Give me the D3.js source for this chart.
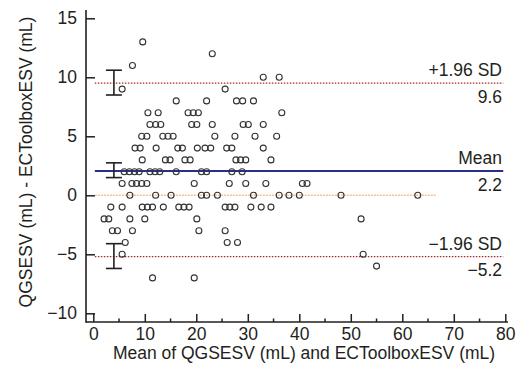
<!DOCTYPE html>
<html>
<head>
<meta charset="utf-8">
<script src="https://cdn.jsdelivr.net/npm/d3@7"></script>
<style>
  body { margin: 0; background: #fff; }
  text { font-family: "Liberation Sans", Arial, sans-serif; fill: #231f20; }
</style>
</head>
<body>
<svg id="chart" width="519" height="376"></svg>
<script>
// mean of the two methods (x) and their difference (y), one row per difference level
const meanVals = [
  9.6,
  23.1,
  7.6,
  33.0, 36.1,
  5.6, 25.6,
  16.1, 22.0, 27.8, 29.0, 31.1,
  10.6, 12.6, 18.4, 19.4, 20.4, 36.6,
  11.0, 12.1, 13.1, 19.1, 20.1, 23.1, 29.1, 30.1, 33.0,
  9.4, 10.4, 13.5, 14.5, 15.5, 23.6, 27.5, 31.4, 35.6,
  8.1, 9.1, 12.2, 16.4, 17.3, 20.2, 21.7, 22.8, 25.9, 26.9, 33.0,
  9.5, 14.0, 14.9, 17.8, 18.8, 27.7, 28.6, 29.6, 34.5,
  6.0, 7.0, 8.0, 8.9, 11.0, 12.0, 12.9, 16.1, 21.0, 22.0, 26.9, 28.9,
  5.6, 7.5, 8.4, 9.4, 10.4, 19.6, 26.4, 29.6, 33.5, 40.6, 41.5,
  7.1, 12.1, 15.1, 21.0, 22.0, 24.1, 31.1, 36.1, 38.0, 40.0, 48.1, 63.0,
  3.4, 5.6, 9.5, 10.5, 11.5, 13.6, 16.6, 17.6, 18.6, 25.6, 26.5, 27.5, 30.6, 32.6, 34.5,
  2.1, 3.0, 7.1, 10.0, 20.1, 52.0,
  3.7, 4.7, 7.6, 20.5, 25.6,
  6.2, 26.0, 28.0,
  5.6, 52.4,
  55.0,
  11.5, 19.6
];
const diffVals = [
  13,
  12,
  11,
  10, 10,
  9, 9,
  8, 8, 8, 8, 8,
  7, 7, 7, 7, 7, 7,
  6, 6, 6, 6, 6, 6, 6, 6, 6,
  5, 5, 5, 5, 5, 5, 5, 5, 5,
  4, 4, 4, 4, 4, 4, 4, 4, 4, 4, 4,
  3, 3, 3, 3, 3, 3, 3, 3, 3,
  2, 2, 2, 2, 2, 2, 2, 2, 2, 2, 2, 2,
  1, 1, 1, 1, 1, 1, 1, 1, 1, 1, 1,
  0, 0, 0, 0, 0, 0, 0, 0, 0, 0, 0, 0,
  -1, -1, -1, -1, -1, -1, -1, -1, -1, -1, -1, -1, -1, -1, -1,
  -2, -2, -2, -2, -2, -2,
  -3, -3, -3, -3, -3,
  -4, -4, -4,
  -5, -5,
  -6,
  -7, -7
];

// limits of agreement
const limitNames = ["+1.96 SD", "Mean", "\u22121.96 SD"];
const limitLabels = ["9.6", "2.2", "\u22125.2"];
const limitVals = [9.5, 2.05, -5.2];
const ciLow = [8.5, 1.5, -6.2];
const ciHigh = [10.6, 2.75, -4.1];
const ciAt = 4;

const xTicks = [0, 10, 20, 30, 40, 50, 60, 70, 80];
const xMinor = [5, 15, 25, 35, 45, 55, 65, 75];
const yTicks = [-10, -5, 0, 5, 10, 15];

const svg = d3.select("#chart");
svg.append("rect").attr("width", 519).attr("height", 376).attr("fill", "#fff");

const x = d3.scaleLinear().domain([0, 80]).range([93.3, 505.3]);
const y = d3.scaleLinear().domain([-10, 15]).range([313.3, 18.3]);

const axisX = 86, axisY = 322;
const fmt = d => d < 0 ? "\u2212" + Math.abs(d) : String(d);

// x axis, ticks pointing into the plot
const gx = svg.append("g")
    .attr("transform", `translate(0,${axisY})`)
    .call(d3.axisBottom(x).tickValues(xTicks).tickSize(-8).tickFormat(fmt));
gx.select(".domain").remove();
gx.selectAll(".tick line").attr("stroke", "#231f20").attr("stroke-width", 1.5);
gx.selectAll(".tick text").attr("y", 18).attr("dy", null)
    .style("font-size", "17.5px");
gx.selectAll(".minor").data(xMinor).enter().append("line")
    .attr("x1", d => x(d)).attr("x2", d => x(d))
    .attr("y1", 0).attr("y2", -3.5)
    .attr("stroke", "#231f20").attr("stroke-width", 1.5);

// y axis, ticks pointing into the plot
const gy = svg.append("g")
    .attr("transform", `translate(${axisX},0)`)
    .call(d3.axisLeft(y).tickValues(yTicks).tickSize(-9).tickFormat(fmt));
gy.select(".domain").remove();
gy.selectAll(".tick line").attr("stroke", "#231f20").attr("stroke-width", 1.5);
gy.selectAll(".tick text").attr("x", -9).attr("dy", "0.3em")
    .style("font-size", "17.5px");

svg.append("line").attr("x1", axisX).attr("x2", axisX).attr("y1", 10).attr("y2", axisY + 0.75)
    .attr("stroke", "#231f20").attr("stroke-width", 1.6);
svg.append("line").attr("x1", axisX).attr("x2", 508).attr("y1", axisY).attr("y2", axisY)
    .attr("stroke", "#231f20").attr("stroke-width", 1.6);

// zero line
svg.append("line")
    .attr("x1", x(0.3)).attr("x2", x(66.5))
    .attr("y1", y(0)).attr("y2", y(0))
    .attr("stroke", "#f6bf94").attr("stroke-width", 1.6)
    .attr("stroke-dasharray", "2,1");

// limit lines
svg.selectAll(".limit").data(limitVals).enter().append("line")
    .attr("x1", x(0.3)).attr("x2", x(79.6))
    .attr("y1", d => y(d)).attr("y2", d => y(d))
    .attr("stroke", (d, i) => i === 1 ? "#2b2f8c" : "#a8252b")
    .attr("stroke-width", (d, i) => i === 1 ? 2 : 1.3)
    .attr("stroke-dasharray", (d, i) => i === 1 ? null : "1.5,1.5");

svg.selectAll(".lname").data(limitNames).enter().append("text")
    .attr("x", 502).attr("y", (d, i) => y(limitVals[i]) - 7)
    .attr("text-anchor", "end").style("font-size", "17.5px")
    .text(d => d);
svg.selectAll(".lval").data(limitLabels).enter().append("text")
    .attr("x", 502).attr("y", (d, i) => y(limitVals[i]) + 19.5)
    .attr("text-anchor", "end").style("font-size", "17.5px")
    .text(d => d);

// confidence intervals of the limits
const ci = svg.append("g").attr("stroke", "#231f20").attr("stroke-width", 1.6);
limitVals.forEach((v, i) => {
  ci.append("line").attr("x1", x(ciAt)).attr("x2", x(ciAt)).attr("y1", y(ciLow[i])).attr("y2", y(ciHigh[i]));
  ci.append("line").attr("x1", x(ciAt) - 8).attr("x2", x(ciAt) + 8).attr("y1", y(ciLow[i])).attr("y2", y(ciLow[i]));
  ci.append("line").attr("x1", x(ciAt) - 8).attr("x2", x(ciAt) + 8).attr("y1", y(ciHigh[i])).attr("y2", y(ciHigh[i]));
});

// points
svg.append("g").selectAll("circle").data(meanVals).enter().append("circle")
    .attr("cx", d => x(d))
    .attr("cy", (d, i) => y(diffVals[i]))
    .attr("r", 3)
    .attr("fill", "none")
    .attr("stroke", "#333")
    .attr("stroke-width", 1.1);

// axis titles
svg.append("text")
    .attr("x", 304).attr("y", 359)
    .attr("text-anchor", "middle").style("font-size", "17.5px")
    .text("Mean of QGSESV (mL) and ECToolboxESV (mL)");
svg.append("text")
    .attr("transform", "translate(32,162) rotate(-90)")
    .attr("text-anchor", "middle").style("font-size", "17.5px")
    .text("QGSESV (mL) - ECToolboxESV (mL)");
</script>
</body>
</html>
